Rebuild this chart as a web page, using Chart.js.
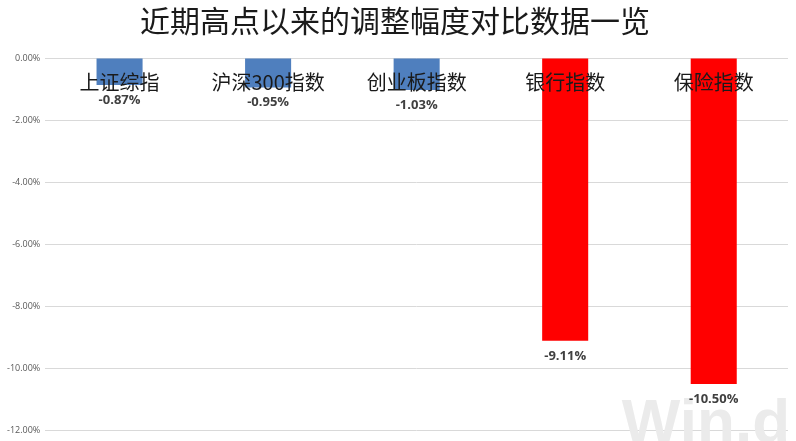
<!DOCTYPE html>
<html>
<head>
<meta charset="utf-8">
<script src="https://cdn.jsdelivr.net/npm/chart.js@4"></script>
<style>
html,body{margin:0;padding:0;background:#fff;}
#wrap{width:796px;height:441px;position:relative;}
</style>
</head>
<body>
<div id="wrap"><canvas id="c" width="796" height="441"></canvas></div>
<script>
const categories = ['上证综指', '沪深300指数', '创业板指数', '银行指数', '保险指数'];
const values = [-0.87, -0.95, -1.03, -9.11, -10.50];
const barColors = ['#4F7FBE', '#4F7FBE', '#4F7FBE', '#FF0000', '#FF0000'];
const titleText = '近期高点以来的调整幅度对比数据一览';
const watermarkText = 'Win.d';

const labelPlugin = {
  id: 'labels',
  beforeDatasetsDraw(chart) {
    const ctx = chart.ctx;
    ctx.save();
    ctx.font = 'bold 62px "Liberation Sans", Arial, sans-serif';
    ctx.fillStyle = '#ebebeb';
    ctx.textAlign = 'right';
    ctx.textBaseline = 'alphabetic';
    ctx.fillText(watermarkText, 790, 442);
    ctx.restore();
  },
  afterDatasetsDraw(chart) {
    const ctx = chart.ctx;
    const xs = chart.scales.x, ys = chart.scales.y;
    const meta = chart.getDatasetMeta(0);
    ctx.save();
    ctx.font = 'bold 13px "Open Sans", "Liberation Sans", sans-serif';
    ctx.fillStyle = '#404040';
    ctx.textAlign = 'center';
    ctx.textBaseline = 'middle';
    meta.data.forEach((bar, i) => {
      ctx.fillText(values[i].toFixed(2) + '%', bar.x, bar.y + 15);
    });
    ctx.font = '20px "Noto Sans CJK SC", serif';
    ctx.fillStyle = '#1a1a1a';
    const y0 = ys.getPixelForValue(0);
    categories.forEach((c, i) => {
      ctx.fillText(c, xs.getPixelForValue(i), y0 + 24);
    });
    ctx.restore();
  }
};

new Chart(document.getElementById('c'), {
  type: 'bar',
  data: {
    labels: categories,
    datasets: [{
      data: values,
      backgroundColor: barColors,
      borderWidth: 0,
      barPercentage: 0.31,
      categoryPercentage: 1.0
    }]
  },
  options: {
    responsive: false,
    animation: false,
    devicePixelRatio: 1,
    layout: { padding: { left: 2, right: 8, top: 0, bottom: 2 } },
    plugins: {
      legend: { display: false },
      tooltip: { enabled: false },
      title: {
        display: true,
        text: titleText,
        font: { family: '"Noto Sans CJK SC", serif', size: 30, weight: 'normal' },
        color: '#1a1a1a',
        padding: { top: 3, bottom: 19 }
      }
    },
    scales: {
      x: {
        ticks: { display: false },
        grid: { display: false },
        border: { display: false }
      },
      y: {
        min: -12,
        max: 0,
        ticks: {
          stepSize: 2,
          color: '#595959',
          font: { family: '"Open Sans", "Liberation Sans", sans-serif', size: 9 },
          padding: 5,
          callback: v => v.toFixed(2) + '%'
        },
        grid: { color: '#d9d9d9', drawTicks: false },
        border: { display: false }
      }
    }
  },
  plugins: [labelPlugin]
});
</script>
</body>
</html>
